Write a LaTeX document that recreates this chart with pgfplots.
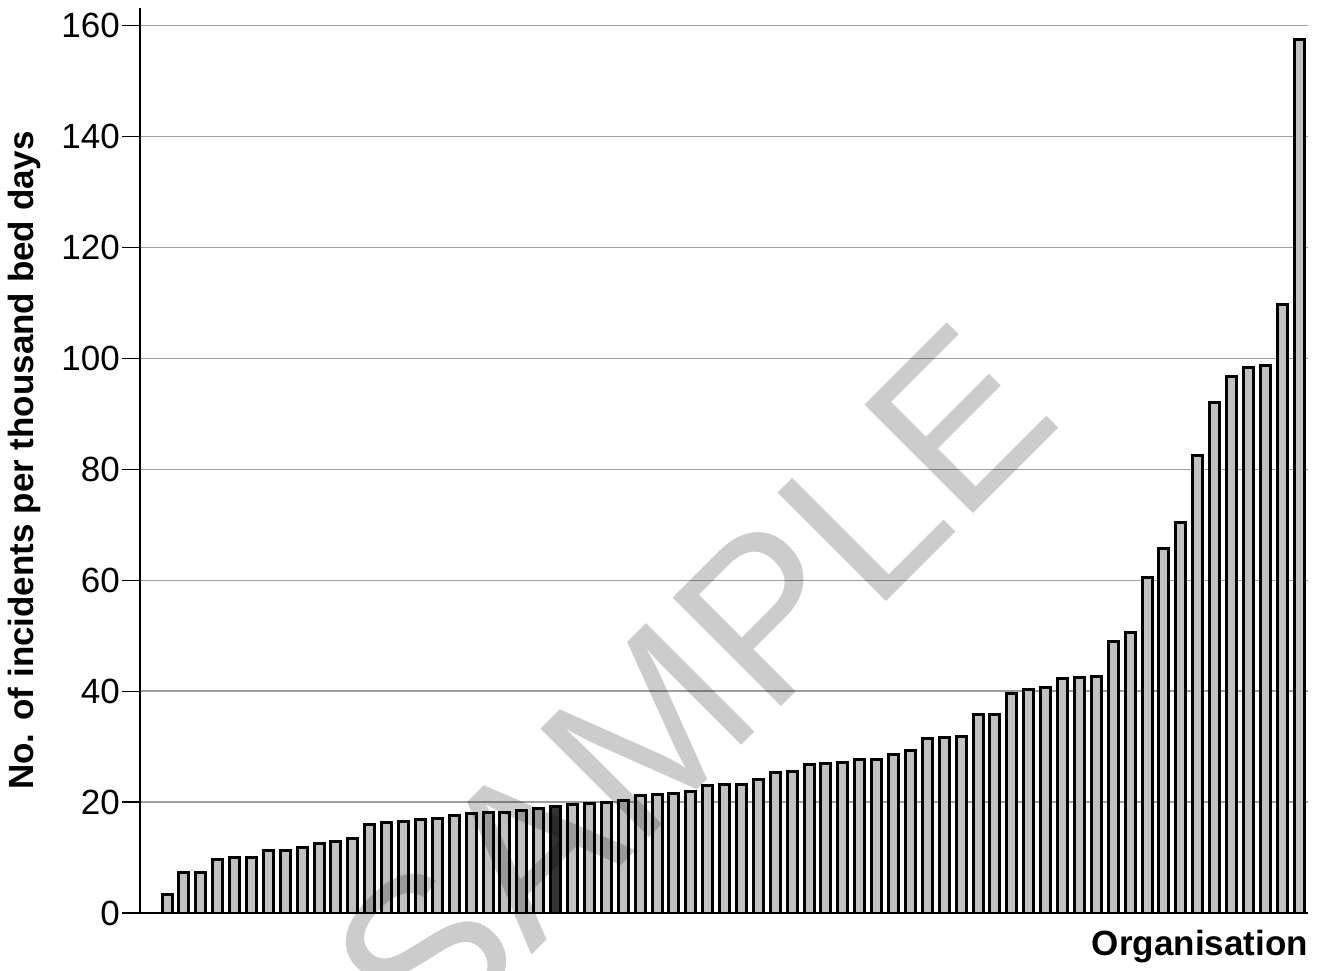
\documentclass[border=0pt]{standalone}
\usepackage{fontspec}
\setmainfont{Liberation Sans}
\usepackage{pgfplots}
\pgfplotsset{compat=1.18}
\definecolor{barfill}{HTML}{C0C0C0}
\definecolor{darkbar}{HTML}{333333}
\begin{document}
\begin{tikzpicture}
\path[use as bounding box] (0,0) rectangle (1317pt,970pt);
\begin{axis}[
  at={(140pt,57pt)}, anchor=south west,
  scale only axis, width=1168pt, height=905pt,
  xmin=-0.6, xmax=68.53, ymin=0, ymax=163.2,
  axis x line=bottom, axis y line=left,
  axis line style={-, line width=2.6pt, black},
  xtick=\empty,
  ytick={0,20,...,160},
  tick align=outside,
  major tick length=18pt,
  ytick style={line width=1.3pt, black},
  ymajorgrids, grid style={line width=1.4pt, color=black!38},
  yticklabel style={font=\fontsize{35}{42}\selectfont, inner sep=2pt},
  /pgf/number format/assume math mode=true,
  ylabel={No. of incidents per thousand bed days},
  ylabel style={font=\bfseries\fontsize{35}{42}\selectfont, at={(axis description cs:-0.0993,0.5)}, anchor=center},
  xlabel={Organisation},
  xlabel style={font=\bfseries\fontsize{35}{42}\selectfont, at={(rel axis cs:1,0)}, anchor=base east, inner sep=0pt, yshift=-42pt},
]
\addplot[ybar, bar width=10pt, bar shift=0pt, fill=barfill, draw=black, line width=3pt] coordinates {
(1,3.4) (2,7.3) (3,7.3) (4,9.7) (5,10.0) (6,10.0) (7,11.3) (8,11.3) (9,11.9) (10,12.6)
(11,12.9) (12,13.5) (13,15.9) (14,16.3) (15,16.5) (16,16.8) (17,17.1) (18,17.6) (19,18.0) (20,18.2)
(21,18.2) (22,18.4) (23,18.8) (25,19.5) (26,19.8) (27,20.0) (28,20.3) (29,21.1) (30,21.4)
(31,21.6) (32,21.9) (33,23.0) (34,23.2) (35,23.2) (36,24.0) (37,25.4) (38,25.6) (39,26.7) (40,26.9)
(41,27.2) (42,27.6) (43,27.6) (44,28.5) (45,29.3) (46,31.4) (47,31.7) (48,31.9) (49,35.8) (50,35.8)
(51,39.6) (52,40.3) (53,40.6) (54,42.2) (55,42.4) (56,42.7) (57,49.0) (58,50.6) (59,60.5) (60,65.7)
(61,70.5) (62,82.5) (63,92.0) (64,96.8) (65,98.3) (66,98.8) (67,109.8) (68,157.6)
};
\addplot[ybar, bar width=10pt, bar shift=0pt, fill=darkbar, draw=black, line width=3pt] coordinates {
(24,19.2)
};
\end{axis}
\node[rotate=45, text=black, text opacity=0.2, font=\fontsize{223}{223}\selectfont, inner sep=0pt] at (692pt,283pt) {SAMPLE};
\end{tikzpicture}
\end{document}
